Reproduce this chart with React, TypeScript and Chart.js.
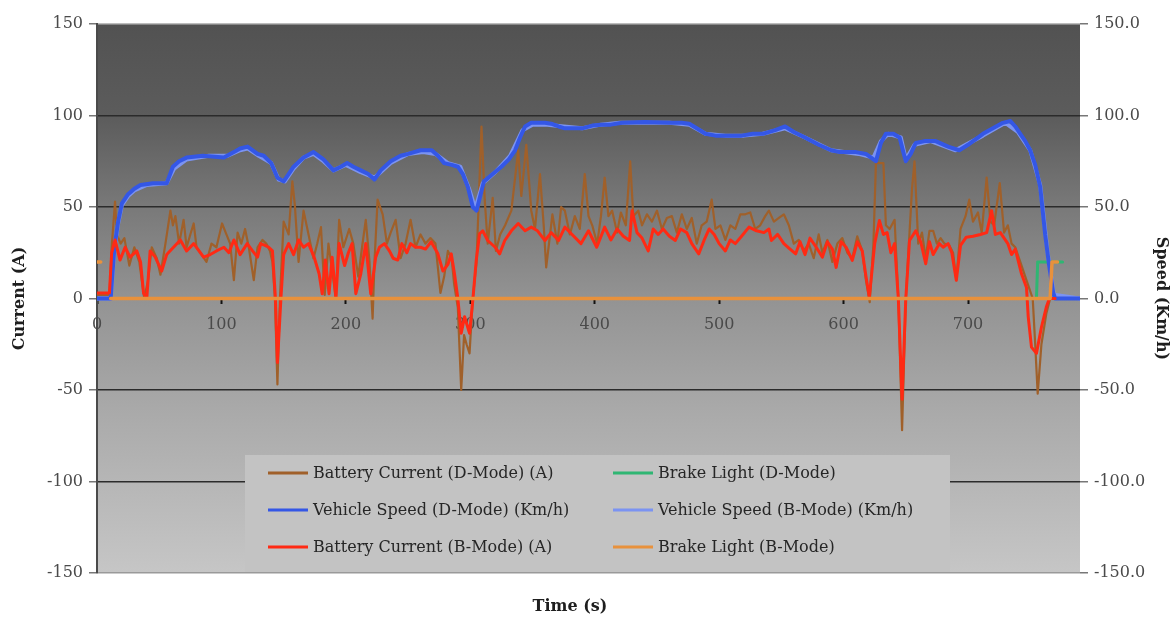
import { useEffect, useRef } from "react";
import { Chart, registerables } from "chart.js";

Chart.register(...registerables);

// Time axis tick positions (s)
const timeTicks = [0, 100, 200, 300, 400, 500, 600, 700];

// [time (s), value] pairs for each logged channel
const batteryCurrentD: [number, number][] = [
  [0, 2], [10, 2], [12, 30], [14.5, 53], [16, 35], [19, 30], [22, 33], [26, 18], [30, 28], [34, 20],
  [38, 0], [41, 10], [44, 28], [48, 22], [51, 13], [55, 30], [59, 48], [61, 40], [63, 45], [66, 30],
  [69.6, 43], [72, 28], [75, 35], [77.7, 41], [80, 28], [84, 24], [88, 20], [92, 30], [96, 28], [100.5, 41],
  [104, 35], [107, 30], [110, 10], [113, 36], [116, 30], [119, 38], [122, 28], [126, 10], [129, 28], [133, 32],
  [136, 30], [139, 26], [141, 20], [143, 0], [145, -47], [147, 0], [150, 42], [154, 35], [157, 64], [159, 51],
  [162, 20], [166, 48], [170, 35], [174, 22], [177, 30], [180, 39], [183, 2], [186, 30], [189, 15], [192, 0],
  [194.6, 43], [198, 28], [202.7, 38], [206, 30], [210, 12], [213, 28], [216, 43], [219, 20], [221.5, -11], [223, 20],
  [225.5, 54], [229.6, 46], [233, 30], [236, 36], [240, 43], [244, 22], [248, 30], [252, 43], [256, 28], [260, 35],
  [264, 30], [268, 33], [272, 30], [276, 3], [279, 12], [282, 26], [285, 22], [287, 8], [290, -5], [292.7, -50],
  [295, -20], [297, -25], [299.4, -30], [302, 0], [305, 20], [309, 94], [311.6, 54], [314, 30], [318, 55], [320.6, 26],
  [324, 35], [328, 40], [333, 48], [338.5, 81], [341, 56], [345, 84], [349, 48], [352, 38], [356, 68], [359, 40],
  [361, 17], [366, 46], [370, 30], [373, 50], [376, 48], [380, 35], [384, 45], [388, 38], [392, 68], [395, 45],
  [398, 40], [402, 30], [405, 45], [408, 66], [411, 45], [414, 48], [418, 36], [421, 47], [425, 40], [428.5, 75],
  [431, 45], [435, 48], [438, 40], [442, 46], [446, 42], [450, 48], [454, 38], [458, 44], [462, 45], [466, 36],
  [470, 46], [474, 38], [478, 44], [482, 30], [486, 40], [490, 42], [494, 54], [497, 38], [501, 40], [505, 32],
  [509, 40], [513, 38], [517, 46], [521, 46], [525, 47], [529, 38], [533, 40], [537, 45], [540, 48], [544, 42],
  [548, 44], [552, 46], [556, 40], [560, 30], [564, 32], [568, 26], [572, 30], [576, 22], [580, 35], [583, 25],
  [587, 32], [591, 20], [595, 30], [599, 33], [603, 25], [607, 22], [611, 34], [615, 26], [618, 10], [621, -2],
  [624, 30], [626, 74], [629, 74], [632, 74], [634, 40], [637, 38], [641, 43], [644, 0], [647, -72], [650, 0],
  [653, 36], [655, 60], [657, 75], [660, 30], [663, 36], [666, 22], [669, 37], [672, 37], [675, 30], [678, 33],
  [681, 30], [685, 29], [688, 25], [690.6, 10], [694, 38], [698, 45], [701, 54], [704, 42], [708, 47], [711, 36],
  [715, 66], [718, 42], [721, 40], [725.5, 63], [729, 36], [732, 40], [735, 30], [738, 28], [742, 20], [745, 14],
  [748, 8], [752, 0], [754, -25], [756, -52], [759, -25], [763, -8], [766, 0], [790, 0],
];

const batteryCurrentB: [number, number][] = [
  [0, 3], [10, 3], [11.8, 25], [14.5, 32], [18.5, 21], [22.6, 28], [26.6, 22.6], [32, 26], [35, 20], [37.4, 3],
  [40, 0], [42.7, 26], [46.8, 22.6], [52, 15], [56, 24], [61.5, 28], [67, 32], [72, 26], [77.7, 30], [82, 26],
  [85.7, 22.6], [91, 24], [96, 26], [102, 28], [106, 25], [110, 32], [115, 24], [120.7, 30], [125, 26], [129, 22.6],
  [131.5, 30], [135, 29], [138, 28], [141, 26], [143.5, -1], [145, -35], [147.8, 0], [150, 24], [154, 30], [158, 24],
  [162, 32], [166, 28], [170, 30], [174.5, 22.6], [178.5, 13.5], [181, 2.6], [183.5, 21], [186.5, 2.6], [189, 22.6], [192, 0],
  [194.6, 30], [199, 18], [202, 25], [205, 30], [208, 2.6], [212, 13.5], [216, 30], [220, 2.6], [224, 22.6], [227, 28],
  [231, 30], [235, 26], [238, 22], [241.7, 21], [245, 30], [249, 25], [252, 30], [256, 28], [260, 28], [264, 27],
  [268.5, 31], [274, 24.4], [278, 15], [282, 18.6], [284.7, 24.4], [287.3, 13.5], [290, 0], [292.7, -19], [295.4, -10], [299.4, -19],
  [302, -1], [304.8, 21], [307.5, 35.5], [310, 37], [314, 31.7], [320, 28], [323.6, 24.4], [327.7, 31.7], [333, 37], [338.5, 41],
  [344, 37], [349, 39], [354, 37], [360, 31.7], [365, 36], [371, 31.7], [376, 39], [381, 35.5], [389, 30], [395, 37],
  [401.6, 28], [408, 39], [413, 32], [418, 38], [423, 34], [428, 31.7], [430, 48], [434, 36], [438, 33], [443, 26],
  [447, 38], [451, 35], [455, 38], [460, 34], [464.8, 31.7], [469, 38], [474, 36], [478, 30], [483.6, 24.4], [488, 32],
  [492, 38], [496, 35], [500, 30], [505, 26], [509, 32], [513, 30], [518, 34], [524, 39], [530, 37], [536, 36],
  [540, 38], [542, 31.7], [547, 35], [552, 30], [557, 27], [561.5, 24.4], [565, 31], [569, 24], [573, 33], [578, 28],
  [583, 22.6], [587, 31], [591, 27], [594, 17], [598, 31], [602, 28], [607, 20.8], [611, 31], [615, 26], [618, 12],
  [620.7, 0.7], [625, 30], [628.8, 42.6], [632, 35], [635, 36], [638, 25], [641, 30], [644, 0], [647, -55], [650, 0],
  [653, 31.7], [658, 37], [662, 31], [666, 19], [669, 31], [672, 24], [677, 30], [680, 28], [684, 30], [687, 25],
  [690.6, 10], [694, 29], [698.6, 33.5], [704, 34], [710, 35], [715, 36], [719, 48], [722, 35], [726, 36], [732, 30],
  [735, 24], [738, 27], [743, 13.5], [747, 6], [748.4, -10], [751, -26.6], [755, -30], [759, -15.7], [763, -4.5], [765.4, 0],
  [770, 0],
];

const vehicleSpeedD: [number, number][] = [
  [0, 0], [11, 0], [12, 10], [14, 28], [17, 42], [20, 52], [25, 57], [30, 60], [35, 62], [45, 63],
  [56, 63], [61, 72], [66, 75], [72, 77], [85, 78], [102, 77], [110, 80], [115, 82], [121, 83], [129, 79],
  [134, 78], [140, 74], [145, 66], [150, 64], [154, 68], [158, 72], [166, 77], [174, 80], [182, 76], [190, 70],
  [196, 72], [201, 74], [206, 72], [212, 70], [218, 68], [223, 65], [228, 70], [236, 75], [244, 78], [250, 79],
  [260, 81], [269, 81], [274, 78], [279, 74], [285, 73], [290, 72], [294, 68], [298, 61], [302, 50], [305, 48],
  [308, 56], [311, 64], [318, 68], [325, 72], [331, 76], [336, 81], [340, 88], [344, 94], [349, 96], [354, 96],
  [360, 96], [365, 95.5], [371, 94], [376, 93], [384, 93], [390, 93], [398, 94.5], [405, 95], [413, 95], [422, 96],
  [440, 96.5], [462, 96], [470, 96], [476, 95.5], [482, 93], [489, 90], [497, 89], [505, 89], [518, 89], [527, 90],
  [535, 90], [545, 92], [553, 94], [560, 91], [569, 88], [580, 84], [590, 81], [597, 80], [610, 80], [618, 79],
  [624, 76], [626, 75], [630, 85], [634, 90], [640, 90], [645, 88], [648, 80], [650, 75], [654, 79], [658, 85],
  [665, 86], [674, 86], [684, 83], [693, 81], [700, 84], [712, 90], [720, 93], [728, 96], [734, 97], [738, 94],
  [742, 90], [746, 86], [750, 81], [754, 73], [758, 61], [760, 48], [762, 35], [765, 19], [768.5, 3], [770, 0],
  [790, 0],
];

const vehicleSpeedB: [number, number][] = [
  [0, 0], [11, 0], [12, 9], [14, 27], [17, 41], [20, 51], [25, 56], [30, 59], [40, 62], [56, 63],
  [62, 71], [72, 76], [90, 78], [105, 78], [115, 81], [121, 82], [130, 78], [140, 74], [146, 65], [151, 64],
  [158, 71], [166, 77], [174, 79], [182, 75], [190, 70], [200, 73], [212, 69], [223, 66], [236, 74], [250, 79],
  [262, 80], [272, 79], [282, 74], [292, 72], [299, 60], [304, 49], [310, 63], [320, 69], [332, 78], [342, 92],
  [350, 95], [362, 95], [375, 94], [390, 93], [405, 95], [420, 96], [440, 96], [460, 96], [476, 95], [489, 90],
  [505, 89], [520, 89], [535, 90], [553, 93], [569, 88], [590, 81], [612, 79], [624, 77], [630, 86], [636, 90],
  [646, 88], [650, 76], [657, 84], [670, 86], [690, 81], [712, 89], [730, 96], [740, 91], [750, 81], [758, 62],
  [764, 25], [769, 2], [790, 0],
];

// Brake signals (null = no sample)
const brakeLightD: [number, number | null][] = [
  [11, 0], [755, 0], [756, 20], [776, 20],
];

const brakeLightB: [number, number | null][] = [
  [0, 20], [3, 20], [3.5, null], [11, 0], [766, 0], [767.5, 20], [772, 20],
];

const axisFont = "DejaVu Serif";

const seriesColors = {
  currentD: "#a0602a",
  brakeD: "#2fb673",
  speedD: "#3457e6",
  speedB: "#7b93f2",
  currentB: "#ff2a14",
  brakeB: "#e8913c",
};

const toPoints = (pairs: [number, number | null][]) => pairs.map(([x, y]) => ({ x, y }));

// Grey gradient behind the plot area
const plotBackground = {
  id: "plotBackground",
  beforeDraw(chart: any) {
    const { ctx, chartArea: a } = chart;
    const g = ctx.createLinearGradient(0, a.top, 0, a.bottom);
    g.addColorStop(0, "#525252");
    g.addColorStop(0.17, "#5c5c5c");
    g.addColorStop(0.34, "#7a7a7a");
    g.addColorStop(0.5, "#939393");
    g.addColorStop(0.7, "#a9a9a9");
    g.addColorStop(1, "#c6c6c6");
    ctx.save();
    ctx.fillStyle = g;
    ctx.fillRect(a.left, a.top, a.right - a.left, a.bottom - a.top);
    ctx.restore();
  },
};

// Two-column legend box inside the plot, plus the time axis title
const legendBox = {
  id: "legendBox",
  afterDraw(chart: any) {
    const { ctx, chartArea: a } = chart;
    const bx = a.left + 148;
    const by = 455;
    const bw = 705;
    const bh = a.bottom - by - 1;
    ctx.save();
    ctx.fillStyle = "#c3c3c3";
    ctx.fillRect(bx, by, bw, bh);
    const colX = [bx + 23, bx + 368];
    chart.data.datasets.forEach((ds: any, i: number) => {
      const row = Math.floor(i / 2);
      const col = i % 2;
      const y = by + 18 + row * 37;
      const x = colX[col];
      ctx.strokeStyle = ds.borderColor;
      ctx.lineWidth = 3;
      ctx.beginPath();
      ctx.moveTo(x, y);
      ctx.lineTo(x + 40, y);
      ctx.stroke();
      ctx.fillStyle = "#262626";
      ctx.font = `16px "${axisFont}"`;
      ctx.textAlign = "left";
      ctx.textBaseline = "middle";
      ctx.fillText(ds.label, x + 45, y + 1);
    });
    ctx.fillStyle = "#1e1e1e";
    ctx.font = `bold 16px "${axisFont}"`;
    ctx.textAlign = "center";
    ctx.textBaseline = "middle";
    ctx.fillText("Time (s)", 570, 607);
    ctx.restore();
  },
};

export default function App() {
  const canvasRef = useRef<HTMLCanvasElement | null>(null);

  useEffect(() => {
    const canvas = canvasRef.current;
    if (!canvas) return;

    const lineStyle = {
      pointRadius: 0,
      pointHoverRadius: 0,
      tension: 0,
      spanGaps: false,
      borderJoinStyle: "round" as const,
      borderCapStyle: "round" as const,
    };

    const chart = new Chart(canvas, {
      type: "line",
      data: {
        datasets: [
          { ...lineStyle, label: "Battery Current (D-Mode) (A)", data: toPoints(batteryCurrentD), borderColor: seriesColors.currentD, borderWidth: 2.2, yAxisID: "y", order: 6 },
          { ...lineStyle, label: "Brake Light (D-Mode)", data: toPoints(brakeLightD), borderColor: seriesColors.brakeD, borderWidth: 3, yAxisID: "y2", order: 5 },
          { ...lineStyle, label: "Vehicle Speed (D-Mode) (Km/h)", data: toPoints(vehicleSpeedD), borderColor: seriesColors.speedD, borderWidth: 4, yAxisID: "y2", order: 3 },
          { ...lineStyle, label: "Vehicle Speed (B-Mode) (Km/h)", data: toPoints(vehicleSpeedB), borderColor: seriesColors.speedB, borderWidth: 4, yAxisID: "y2", order: 4 },
          { ...lineStyle, label: "Battery Current (B-Mode) (A)", data: toPoints(batteryCurrentB), borderColor: seriesColors.currentB, borderWidth: 3, yAxisID: "y", order: 2 },
          { ...lineStyle, label: "Brake Light (B-Mode)", data: toPoints(brakeLightB), borderColor: seriesColors.brakeB, borderWidth: 3.5, yAxisID: "y2", order: 1 },
        ],
      },
      options: {
        responsive: false,
        devicePixelRatio: 1,
        animation: false,
        events: [],
        layout: { padding: { top: 24, bottom: 48, left: 0, right: 0 } },
        plugins: {
          legend: { display: false },
          tooltip: { enabled: false },
        },
        scales: {
          x: {
            type: "linear",
            min: 0,
            max: 790,
            position: { y: 0 } as any,
            afterBuildTicks(s: any) {
              s.ticks = timeTicks.map((value) => ({ value }));
            },
            ticks: {
              autoSkip: false,
              maxRotation: 0,
              padding: 12,
              color: "#4a4a4a",
              font: { family: axisFont, size: 16 },
              callback: (v: any) => String(v),
            },
            grid: { drawOnChartArea: false, drawTicks: true, tickLength: 5, tickColor: "#111", tickWidth: 2 },
            border: { display: false },
          },
          y: {
            type: "linear",
            position: "left",
            min: -150,
            max: 150,
            ticks: {
              stepSize: 50,
              padding: 6,
              color: "#4a4a4a",
              font: { family: axisFont, size: 16 },
            },
            grid: {
              lineWidth: 1.5,
              tickLength: 8,
              tickColor: "#777",
              color: (c: any) => {
                const v = c.tick && c.tick.value;
                if (v === 150) return "#bdbdbd";
                if (v === -150) return "#9a9a9a";
                return "#2b2b2b";
              },
            },
            border: { color: "#4a4a4a", width: 2 },
            title: {
              display: true,
              text: "Current (A)",
              color: "#1e1e1e",
              font: { family: axisFont, size: 16, weight: "bold" },
              padding: { top: 10, bottom: 0 },
            },
            afterFit(s: any) {
              s.width = 97;
            },
          },
          y2: {
            type: "linear",
            position: "right",
            min: -150,
            max: 150,
            ticks: {
              stepSize: 50,
              padding: 6,
              color: "#4a4a4a",
              font: { family: axisFont, size: 16 },
              callback: (v: any) => Number(v).toFixed(1),
            },
            grid: { drawOnChartArea: false, tickLength: 8, tickColor: "#777", lineWidth: 1.5 },
            border: { display: false },
            title: {
              display: true,
              text: "Speed (Km/h)",
              color: "#1e1e1e",
              font: { family: axisFont, size: 16, weight: "bold" },
              padding: { top: 3, bottom: 0 },
            },
            afterFit(s: any) {
              s.width = 94;
            },
          },
        },
      },
      plugins: [plotBackground, legendBox],
    });

    return () => chart.destroy();
  }, []);

  return (
    <div style={{ position: "absolute", left: 0, top: 0, width: 1174, height: 621, background: "#ffffff" }}>
      <canvas ref={canvasRef} width={1174} height={621} style={{ display: "block" }} />
    </div>
  );
}
